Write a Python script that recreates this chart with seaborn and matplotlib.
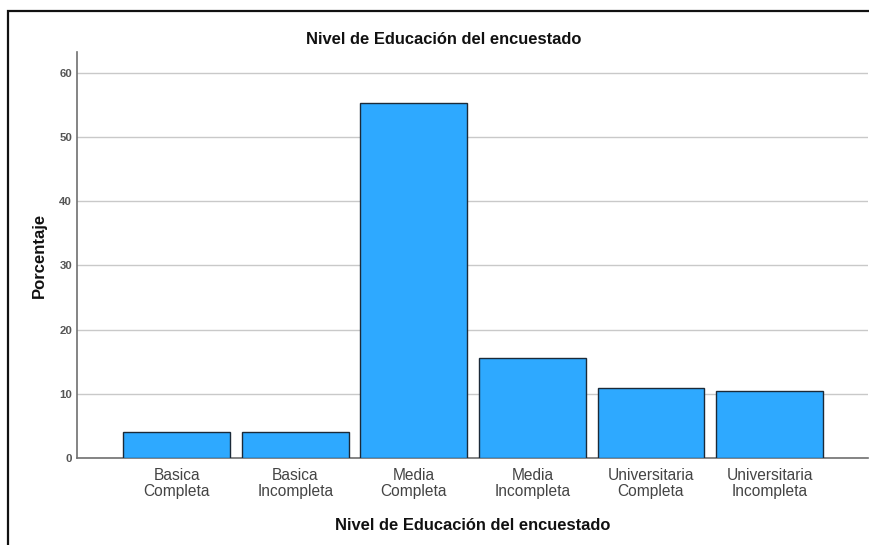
import pandas as pd
import matplotlib
matplotlib.use("Agg")
import matplotlib.pyplot as plt
import seaborn as sns
from matplotlib.patches import Rectangle

# Data
categorias = [
    "Basica\nCompleta",
    "Basica\nIncompleta",
    "Media\nCompleta",
    "Media\nIncompleta",
    "Universitaria\nCompleta",
    "Universitaria\nIncompleta",
]
porcentajes = [4.0, 4.0, 55.2, 15.5, 10.9, 10.4]
y_ticks = [0, 10, 20, 30, 40, 50, 60]

df = pd.DataFrame({"nivel": categorias, "porcentaje": porcentajes})

sns.set_theme(style="white")
plt.rcParams["font.family"] = ["Liberation Sans", "DejaVu Sans"]

fig = plt.figure(figsize=(8.7, 5.45), dpi=100)
ax = fig.add_axes([0.0885, 0.1596, 0.9092, 0.745])

sns.barplot(data=df, x="nivel", y="porcentaje", ax=ax, color="#2EA9FF",
            saturation=1, width=0.9, edgecolor="#1B2A38", linewidth=1.0, zorder=3)

ax.set_xlim(-0.84, 5.83)
ax.set_ylim(0, 63.2)
ax.set_yticks(y_ticks)
ax.yaxis.grid(True, color="#c9c9c9", linewidth=1.0, zorder=0)
ax.xaxis.grid(False)
ax.set_axisbelow(True)

for side in ["top", "right"]:
    ax.spines[side].set_visible(False)
for side in ["left", "bottom"]:
    ax.spines[side].set_color("#707070")
    ax.spines[side].set_linewidth(1.2)

ax.tick_params(axis="x", length=0, pad=7, labelsize=11.2, labelcolor="#444444")
ax.tick_params(axis="y", length=0, pad=3.5, labelsize=8.2, labelcolor="#555555")
for lab in ax.get_yticklabels():
    lab.set_fontweight("bold")
for lab in ax.get_xticklabels():
    lab.set_linespacing(1.1)

ax.set_xlabel("Nivel de Educación del encuestado", fontsize=11.9, fontweight="bold",
              color="#111111", labelpad=14)
ax.set_ylabel("Porcentaje", fontsize=12, fontweight="bold", color="#111111", labelpad=9)
fig.text(444 / 870, 1 - 40 / 545, "Nivel de Educación del encuestado", fontsize=11.9,
         fontweight="bold", color="#111111", ha="center", va="center")

# outer frame of the original screenshot
fig.add_artist(Rectangle((0.0092, -0.2), 1.2, 0.2 + 0.9798, transform=fig.transFigure,
                         fill=False, edgecolor="#111111", linewidth=1.6, clip_on=False))

fig.savefig("out.png", dpi=100, facecolor="white")
